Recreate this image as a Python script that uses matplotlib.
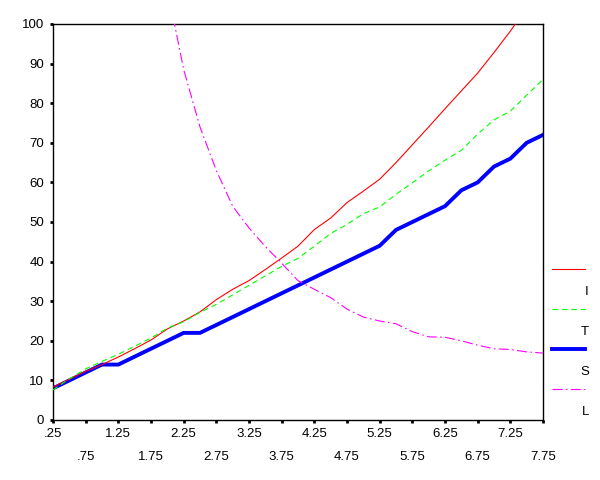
import matplotlib
matplotlib.use("Agg")
import matplotlib.pyplot as plt
from matplotlib.lines import Line2D
import numpy as np

plt.rcParams['font.family'] = ['Liberation Sans', 'DejaVu Sans']

x = [0.25, 0.5, 0.75, 1.0, 1.25, 1.5, 1.75, 2.0, 2.25, 2.5, 2.75, 3.0, 3.25,
     3.5, 3.75, 4.0, 4.25, 4.5, 4.75, 5.0, 5.25, 5.5, 5.75, 6.0, 6.25, 6.5,
     6.75, 7.0, 7.25, 7.5, 7.75]

series_I = [8.3, 10.3, 12.3, 14.0, 15.9, 18.0, 20.2, 23.0, 25.0, 27.3, 30.4,
            33.0, 35.2, 38.0, 40.9, 43.9, 48.1, 51.0, 54.9, 57.8, 60.8, 65.0,
            69.5, 74.0, 78.6, 83.1, 87.6, 92.8, 98.2, 104.0, 110.0]
series_T = [7.6, 10.4, 12.9, 14.8, 16.6, 18.6, 20.7, 23.2, 24.8, 27.2, 29.2,
            31.6, 34.0, 36.4, 38.8, 40.8, 43.9, 47.1, 49.4, 52.1, 53.8, 57.0,
            59.9, 62.9, 65.6, 68.1, 72.2, 75.8, 78.0, 82.0, 86.0]
series_S = [8, 10, 12, 14, 14, 16, 18, 20, 22, 22, 24, 26, 28, 30, 32, 34, 36,
            38, 40, 42, 44, 48, 50, 52, 54, 58, 60, 64, 66, 70, 72]
series_L = [None, None, None, None, None, None, None, 109.0, 88.5, 74.0, 63.0,
            54.0, 48.5, 43.8, 39.6, 35.2, 33.0, 30.9, 28.0, 26.0, 25.0, 24.3,
            22.3, 21.0, 20.9, 20.0, 18.9, 18.0, 17.8, 17.2, 16.9]

legend_labels = ["I", "T", "S", "L"]
major_ticks = [0.25, 1.25, 2.25, 3.25, 4.25, 5.25, 6.25, 7.25]
major_labels = [".25", "1.25", "2.25", "3.25", "4.25", "5.25", "6.25", "7.25"]
minor_ticks = [0.75, 1.75, 2.75, 3.75, 4.75, 5.75, 6.75, 7.75]
minor_labels = [".75", "1.75", "2.75", "3.75", "4.75", "5.75", "6.75", "7.75"]
y_ticks = [0, 10, 20, 30, 40, 50, 60, 70, 80, 90, 100]

FS = 9.5

fig = plt.figure(figsize=(6, 4.8), dpi=100)
ax = fig.add_axes([53/600, 1-420/480, 490/600, 396/480])

L_vals = np.array([np.nan if v is None else v for v in series_L], dtype=float)

ax.plot(x, series_I, color='#FF0000', lw=0.8, zorder=3)
ax.plot(x, series_T, color='#00FF00', lw=0.8, dashes=(5, 3.5), zorder=3)
ax.plot(x, series_S, color='#0000FF', lw=2.8, zorder=2, solid_joinstyle='miter')
ax.plot(x, L_vals, color='#FF00FF', lw=0.8, dashes=(9, 3, 1.5, 3), zorder=3)

ax.set_xlim(0.25, 7.75)
ax.set_ylim(0, 100)

ax.set_xticks(major_ticks)
ax.set_xticklabels(major_labels)
ax.set_xticks(minor_ticks, minor=True)
ax.set_xticklabels(minor_labels, minor=True)
ax.set_yticks(y_ticks)
ax.set_yticklabels([str(v) for v in y_ticks])

ax.tick_params(axis='x', which='major', direction='out', length=2, width=2,
               pad=3.5, labelsize=FS, colors='black')
ax.tick_params(axis='x', which='minor', direction='out', length=2, width=2,
               pad=20.5, labelsize=FS, colors='black')
ax.tick_params(axis='y', direction='out', length=2.5, width=2, pad=4,
               labelsize=FS, colors='black')

for s in ax.spines.values():
    s.set_linewidth(1.0)
    s.set_color('black')

# Legend drawn manually in figure pixel coordinates
styles = [
    dict(color='#FF0000', lw=0.8),
    dict(color='#00FF00', lw=0.8, dashes=(5, 3.5)),
    dict(color='#0000FF', lw=2.8),
    dict(color='#FF00FF', lw=0.8, dashes=(9, 3, 1.5, 3)),
]
line_y = [269, 309, 349, 389]
for lbl, st, ly in zip(legend_labels, styles, line_y):
    fy = 1 - ly / 480
    fig.add_artist(Line2D([552/600, 585/600], [fy, fy], transform=fig.transFigure, **st))
    fig.text(589/600, 1 - (ly + 23) / 480, lbl, ha='right', va='center',
             fontsize=FS, color='black')

fig.savefig("out.png", dpi=100)
